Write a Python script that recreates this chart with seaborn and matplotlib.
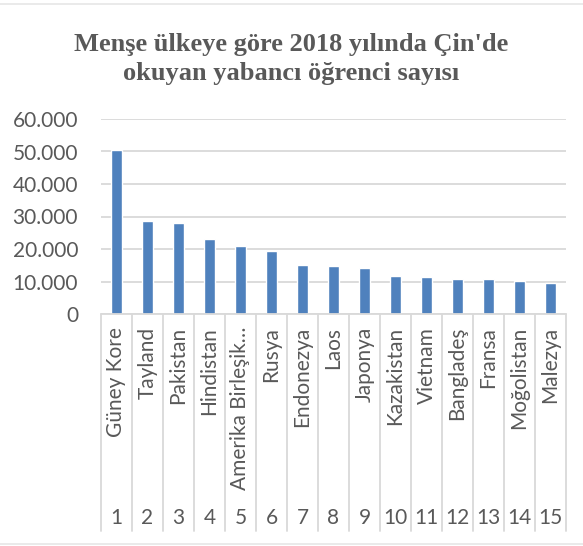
import matplotlib
matplotlib.use("Agg")
import matplotlib.pyplot as plt
import matplotlib.ticker as mticker
import matplotlib.transforms as mtrans
from matplotlib.lines import Line2D
import seaborn as sns
import pandas as pd

countries = ["Güney Kore", "Tayland", "Pakistan", "Hindistan", "Amerika Birleşik…",
             "Rusya", "Endonezya", "Laos", "Japonya", "Kazakistan", "Vietnam",
             "Bangladeş", "Fransa", "Moğolistan", "Malezya"]
ranks = [str(i) for i in range(1, 16)]
students = [50600, 28608, 28023, 23198, 20996, 19239, 15050, 14645, 14230,
            11784, 11299, 10735, 10695, 10158, 9479]
yticks = [0, 10000, 20000, 30000, 40000, 50000, 60000]
title = "Menşe ülkeye göre 2018 yılında Çin'de\nokuyan yabancı öğrenci sayısı"

df = pd.DataFrame({"country": countries, "students": students})

sns.set_theme(style="white")
plt.rcParams["font.family"] = ["Lato", "DejaVu Sans"]
TXT = "#595959"
GRID = "#D9D9D9"

fig = plt.figure(figsize=(5.83, 5.46), dpi=100)
W, H = 583, 546
x0, x1, y0, y1 = 101, 566, 314, 119
ax = fig.add_axes([x0 / W, (H - y0) / H, (x1 - x0) / W, (y0 - y1) / H])

sns.barplot(data=df, x="country", y="students", color="#4F81BD", width=0.36,
            saturation=1, ax=ax, zorder=3)
ax.set_xlim(-0.5, len(countries) - 0.5)
ax.set_ylim(0, 60000)
ax.set_yticks(yticks)
ax.yaxis.set_major_formatter(mticker.FuncFormatter(lambda v, p: f"{int(v):,}".replace(",", ".")))
ax.tick_params(axis="y", length=0, labelsize=15, labelcolor=TXT, pad=16.5)
ax.grid(axis="y", color=GRID, linewidth=1.3, zorder=0)
for s in ax.spines.values():
    s.set_visible(False)
ax.set_xticks([])
ax.set_xlabel("")
ax.set_ylabel("")

# category axis (two-level)
trans = mtrans.blended_transform_factory(ax.transData, ax.transAxes)
ax.axhline(0, color=GRID, linewidth=1.3, zorder=4, clip_on=False)
bottom = -(531 - y0) / (y0 - y1)
for i in range(len(countries) + 1):
    ax.add_line(Line2D([i - 0.5, i - 0.5], [0, bottom], transform=trans,
                       color=GRID, linewidth=1.3, clip_on=False))
lab_top = -(327 - y0) / (y0 - y1)
num_y = -(518 - y0) / (y0 - y1)
for i, (c, r) in enumerate(zip(countries, ranks)):
    ax.text(i, lab_top, c, rotation=90, ha="center", va="top", transform=trans,
            fontsize=15, color=TXT)
    ax.text(i, num_y, r, ha="center", va="center", transform=trans,
            fontsize=15, color=TXT)

fig.text(0.5, 1 - 59 / H, title, ha="center", va="center", fontsize=19,
         fontweight="bold", family=["Liberation Serif", "DejaVu Serif"],
         color=TXT, linespacing=1.33)

# chart border lines
fig.add_artist(Line2D([0, 1], [1 - 4 / H, 1 - 4 / H], color="#E6E6E6", linewidth=1.2))
fig.add_artist(Line2D([0, 1], [1 - 544 / H, 1 - 544 / H], color="#E6E6E6", linewidth=1.2))

fig.savefig("out.png", dpi=100)
